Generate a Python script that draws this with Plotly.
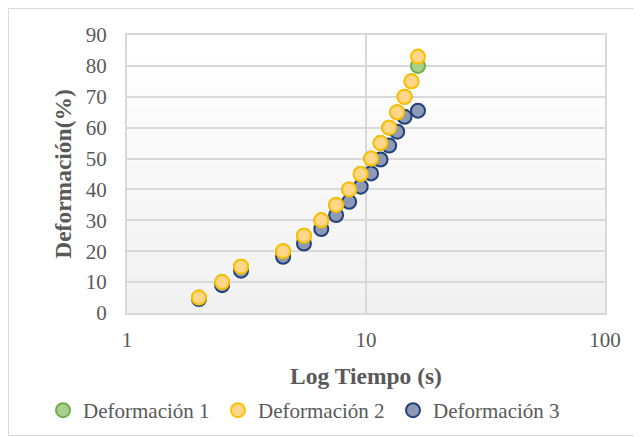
import plotly.graph_objects as go

tiempo = [2, 2.5, 3, 4.5, 5.5, 6.5, 7.5, 8.5, 9.5, 10.5, 11.5, 12.5, 13.5, 14.5, 15.5, 16.5]
def1 = [5, 10, 15, 20, 25, 30, 35, 40, 45, 50, 55, 60, 65, 70, 75, 80]
def2 = [5, 10, 15, 20, 25, 30, 35, 40, 45, 50, 55, 60, 65, 70, 75, 83]
tiempo3 = [2, 2.5, 3, 4.5, 5.5, 6.5, 7.5, 8.5, 9.5, 10.5, 11.5, 12.5, 13.5, 14.5, 16.5]
def3 = [4.5, 9, 13.7, 18.2, 22.5, 27.2, 31.7, 36, 40.9, 45.2, 49.7, 54.2, 58.7, 63.5, 65.5]

# the page places the figure 8px from the top-left corner
W, H = 634, 429
L, R, T, B = 119, 37, 27, 124
pw, ph = W - L - R, H - T - B

FONT = "Liberation Serif"
GREY = "#595959"

fig = go.Figure()

def mk(fill, line):
    return dict(size=14, color=fill, line=dict(color=line, width=2))

fig.add_trace(go.Scatter(x=tiempo3, y=def3, mode="markers", name="Deformación 3",
                         marker=mk("#8d99b5", "#22407a"), legendrank=3))
fig.add_trace(go.Scatter(x=tiempo, y=def1, mode="markers", name="Deformación 1",
                         marker=mk("#a9d18e", "#70ad47"), legendrank=1))
fig.add_trace(go.Scatter(x=tiempo, y=def2, mode="markers", name="Deformación 2",
                         marker=mk("#ffd68a", "#ffc000"), legendrank=2))

shapes = []
# gradient background of the plot area
n = 30
for i in range(n):
    t = i / (n - 1)
    v = int(round(255 - 14 * (1 - t)))
    shapes.append(dict(type="rect", xref="x domain", yref="y domain",
                       x0=0, x1=1, y0=i / n, y1=(i + 1) / n,
                       fillcolor=f"rgb({v},{v},{v})", line=dict(width=0), layer="below"))
# outer chart border
shapes.append(dict(type="rect", xref="paper", yref="paper",
                   x0=(0.5 - L) / pw, x1=(633.5 - L) / pw,
                   y0=(H - B - 427.5) / ph, y1=(H - B - 0.5) / ph,
                   line=dict(color="#d9d9d9", width=1), fillcolor="rgba(0,0,0,0)", layer="below"))

fig.update_layout(
    width=W, height=H,
    margin=dict(l=L, r=R, t=T, b=B, autoexpand=False),
    paper_bgcolor="white", plot_bgcolor="white",
    font=dict(family=FONT, size=21, color=GREY),
    shapes=shapes,
    showlegend=True,
    legend=dict(orientation="h", x=(35 - L) / pw, xanchor="left",
                y=(H - B - 382) / ph, yanchor="top",
                font=dict(family=FONT, size=21, color=GREY),
                itemwidth=30, entrywidth=130, entrywidthmode="pixels",
                tracegroupgap=0, bgcolor="rgba(0,0,0,0)"),
)

fig.update_xaxes(type="log", range=[0, 2], dtick=1,
                 showgrid=True, gridcolor="#d9d9d9", gridwidth=1.5,
                 showline=True, linecolor="#d9d9d9", linewidth=2, mirror=True,
                 zeroline=False, ticks="", ticklabelstandoff=7,
                 tickfont=dict(family=FONT, size=21, color=GREY),
                 title=dict(text="<b>Log Tiempo (s)</b>", standoff=16,
                            font=dict(family=FONT, size=23.5, color=GREY)))
fig.update_yaxes(range=[0, 90], dtick=10,
                 showgrid=True, gridcolor="#d9d9d9", gridwidth=1.5,
                 showline=True, linecolor="#d9d9d9", linewidth=2, mirror=True,
                 zeroline=False, ticks="", ticklabelstandoff=14,
                 tickfont=dict(family=FONT, size=21, color=GREY),
                 title=dict(text="<b>Deformación(%)</b>", standoff=8,
                            font=dict(family=FONT, size=23.5, color=GREY)))

fig.write_html("out.html")
